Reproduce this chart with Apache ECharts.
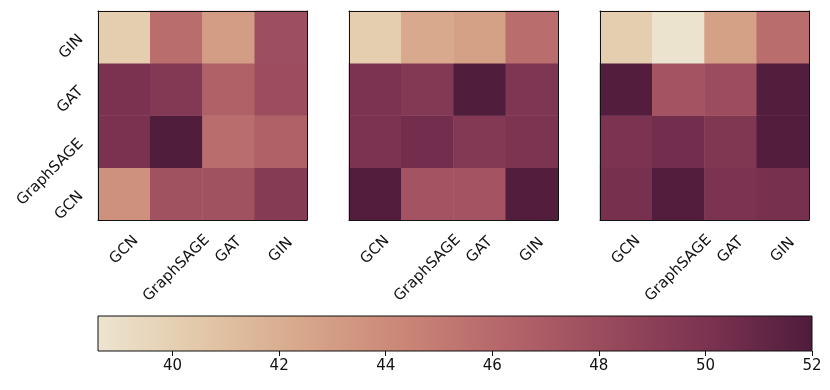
<!DOCTYPE html>
<html>
<head>
<meta charset="utf-8">
<script src="https://cdn.jsdelivr.net/npm/echarts@6/dist/echarts.min.js"></script>
<style>
  html, body { margin: 0; padding: 0; background: #fff; }
  #chart { width: 830px; height: 390px; }
</style>
</head>
<body>
<div id="chart"></div>
<script>
  // model names, y rows listed bottom -> top (category order)
  var models = ['GCN', 'GraphSAGE', 'GAT', 'GIN']

  // rows follow models[] on y, columns follow models[] on x
  var panelA = [
    [43.7, 47.6, 47.6, 49.4],
    [50.1, 51.9, 45.8, 46.6],
    [50.1, 49.5, 46.6, 48.0],
    [40.2, 45.8, 43.0, 47.8]
  ]
  var panelB = [
    [51.8, 47.5, 47.5, 51.8],
    [50.0, 50.4, 49.5, 49.9],
    [50.0, 49.5, 51.9, 49.8],
    [40.2, 42.3, 42.8, 45.8]
  ]
  var panelC = [
    [50.2, 51.8, 50.0, 50.2],
    [50.0, 50.4, 49.7, 51.8],
    [51.8, 47.5, 48.0, 51.8],
    [40.2, 38.7, 42.8, 45.8]
  ]

  var colorMin = 38.6
  var colorMax = 52
  var colorbarTicks = [40, 42, 44, 46, 48, 50, 52]
  var cmap = ['#ede4d0', '#e3c8a9', '#d7a78b', '#ca8677', '#b5656a', '#994a5c', '#7a3250', '#4f1c3c']

  var font = 'DejaVu Sans'
  var ink = '#111'

  var chart = echarts.init(document.getElementById('chart'))

  function toCells(rows) {
    var out = []
    rows.forEach(function (row, y) {
      row.forEach(function (v, x) {
        out.push([x, y, v])
      })
    })
    return out
  }

  var panelLefts = [98, 349, 600]
  var grids = []
  var xAxes = []
  var yAxes = []
  var series = []

  ;[panelA, panelB, panelC].forEach(function (rows, i) {
    grids.push({ left: panelLefts[i], width: 209, top: 11, height: 209 })
    xAxes.push({
      type: 'category', gridIndex: i, data: models, z: 10,
      axisLine: { lineStyle: { color: ink, width: 1 } },
      axisTick: { alignWithLabel: true, length: 5, lineStyle: { color: ink } },
      axisLabel: {
        interval: 0, rotate: 45, margin: 30, align: 'center', verticalAlign: 'middle',
        color: ink, fontSize: 15, fontFamily: font, hideOverlap: false,
        formatter: function (v) { return v === 'GraphSAGE' ? '{long|' + v + '}' : v },
        rich: { long: { fontSize: 15, fontFamily: font, color: ink, padding: [26, 26, 0, 0] } }
      },
      splitLine: { show: false }
    })
    // top frame edge
    xAxes.push({
      type: 'category', gridIndex: i, data: models, position: 'top', z: 10,
      axisLine: { lineStyle: { color: ink, width: 1 } },
      axisTick: { show: false }, axisLabel: { show: false }, splitLine: { show: false }
    })
    yAxes.push({
      type: 'category', gridIndex: i, data: models, z: 10,
      axisLine: { lineStyle: { color: ink, width: 1 } },
      axisTick: { alignWithLabel: true, length: 5, lineStyle: { color: ink } },
      axisLabel: {
        show: i === 0, interval: 0, rotate: 45, margin: 17,
        color: ink, fontSize: 15, fontFamily: font
      },
      splitLine: { show: false }
    })
    // right frame edge
    yAxes.push({
      type: 'category', gridIndex: i, data: models, position: 'right', z: 10,
      axisLine: { lineStyle: { color: ink, width: 1 } },
      axisTick: { show: false }, axisLabel: { show: false }, splitLine: { show: false }
    })
    series.push({
      type: 'heatmap',
      xAxisIndex: i * 2,
      yAxisIndex: i * 2,
      data: toCells(rows),
      itemStyle: { borderWidth: 0 },
      emphasis: { disabled: true }
    })
  })

  // colorbar
  grids.push({
    left: 98, right: 18, top: 316, height: 35, show: true,
    borderColor: ink, borderWidth: 1,
    backgroundColor: new echarts.graphic.LinearGradient(0, 0, 1, 0,
      cmap.map(function (c, k) { return { offset: k / (cmap.length - 1), color: c } }))
  })
  xAxes.push({
    type: 'value', gridIndex: 3, min: colorMin, max: colorMax, z: 10,
    axisLine: { show: false },
    axisTick: { show: true, length: 5, lineStyle: { color: ink }, customValues: colorbarTicks },
    axisLabel: { color: ink, fontSize: 15, fontFamily: font, margin: 8, customValues: colorbarTicks },
    splitLine: { show: false }
  })
  yAxes.push({ type: 'value', gridIndex: 3, show: false })

  chart.setOption({
    animation: false,
    grid: grids,
    xAxis: xAxes,
    yAxis: yAxes,
    visualMap: {
      type: 'continuous', show: false, min: colorMin, max: colorMax,
      seriesIndex: [0, 1, 2],
      inRange: { color: cmap }
    },
    series: series
  })
</script>
</body>
</html>
